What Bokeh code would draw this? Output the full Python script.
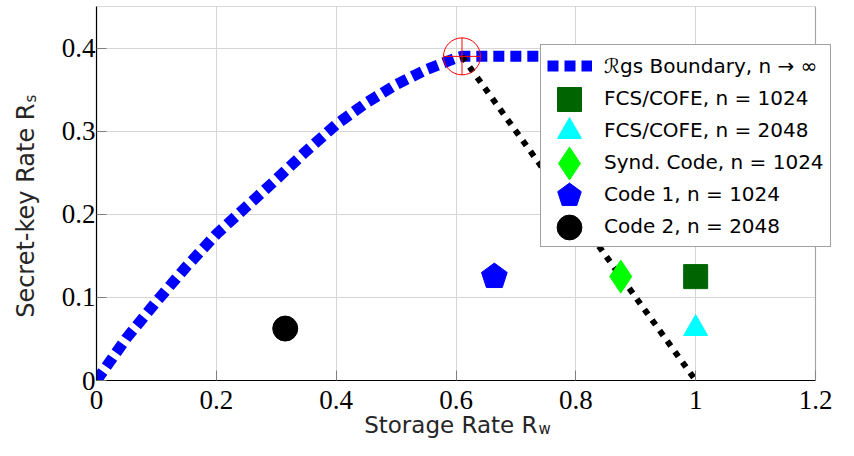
import math
from bokeh.plotting import figure
from bokeh.models import Range1d, FixedTicker, Label, Legend, LegendItem, BoxAnnotation
from bokeh.embed import file_html
from bokeh.resources import INLINE

# ---- data ----
boundary_rw = [0.0, 0.05, 0.10, 0.15, 0.20, 0.25, 0.30, 0.35, 0.40, 0.45, 0.50, 0.55, 0.60, 0.61, 1.0]
boundary_rs = [0.0, 0.051, 0.095, 0.137, 0.176, 0.209, 0.242, 0.276, 0.308, 0.334, 0.356, 0.374, 0.388, 0.39, 0.39]

converse_rw = [0.61, 1.0]
converse_rs = [0.39, 0.0]

corner_rw = [0.61]
corner_rs = [0.39]

fcs1024_rw = [1.0]
fcs1024_rs = [0.125]
fcs2048_rw = [1.0]
fcs2048_rs = [0.0625]
synd_rw = [0.875]
synd_rs = [0.125]
code1_rw = [0.664]
code1_rs = [0.125]
code2_rw = [0.315]
code2_rs = [0.0625]

x_ticks = [0.0, 0.2, 0.4, 0.6, 0.8, 1.0, 1.2]
x_tick_labels = ["0", "0.2", "0.4", "0.6", "0.8", "1", "1.2"]
y_ticks = [0.0, 0.1, 0.2, 0.3, 0.4]
y_tick_labels = ["0", "0.1", "0.2", "0.3", "0.4"]

legend_labels = [
    "ℛgs Boundary, n → ∞",
    "FCS/COFE, n = 1024",
    "FCS/COFE, n = 2048",
    "Synd. Code, n = 1024",
    "Code 1, n = 1024",
    "Code 2, n = 2048",
]

X_MAX = 1.2
Y_MAX = 0.45

# ---- layout (pixels) ----
W, H = 838, 440
F_LEFT, F_RIGHT, F_TOP, F_BOTTOM = 96, 836, 6, 380
PX_X = (815 - F_LEFT) / X_MAX          # pixels per unit along x (axis ends at x=815)
PX_Y = (F_BOTTOM - F_TOP) / Y_MAX       # pixels per unit along y


def dx(px):
    return (px - F_LEFT) / PX_X


def dy(py):
    return (F_BOTTOM - py) / PX_Y


p = figure(width=W, height=H,
           x_range=Range1d(0, dx(F_RIGHT)), y_range=Range1d(0, Y_MAX),
           output_backend="svg", toolbar_location=None,
           min_border_left=F_LEFT, min_border_right=W - F_RIGHT,
           min_border_top=F_TOP, min_border_bottom=H - F_BOTTOM)
p.background_fill_color = "white"
p.border_fill_color = "white"
p.outline_line_color = None

p.xaxis.ticker = FixedTicker(ticks=x_ticks)
p.yaxis.ticker = FixedTicker(ticks=y_ticks)
p.xaxis.major_label_overrides = dict(zip(x_ticks, x_tick_labels))
p.yaxis.major_label_overrides = dict(zip(y_ticks, y_tick_labels))
p.xaxis.bounds = (0, X_MAX)
for ax in (p.xaxis[0], p.yaxis[0]):
    ax.major_label_text_font = "Liberation Serif"
    ax.major_label_text_font_size = "27px"
    ax.major_label_text_color = "black"
    ax.major_tick_in = 10
    ax.major_tick_out = 0
    ax.minor_tick_in = 0
    ax.minor_tick_out = 0
    ax.major_tick_line_color = "#808080"
    ax.axis_line_color = "black"
    ax.axis_line_width = 1.2
p.xaxis.major_label_standoff = 10
p.yaxis.major_label_standoff = 1

p.xgrid.ticker = FixedTicker(ticks=x_ticks)
p.ygrid.ticker = FixedTicker(ticks=y_ticks)
p.xgrid.grid_line_color = "#d6d6d6"
p.ygrid.grid_line_color = "#d6d6d6"

# white area right of the axis end (room for the legend)
p.add_layout(BoxAnnotation(left=X_MAX, fill_color="white", fill_alpha=1.0, line_alpha=0))

# ---- glyphs ----
r_bound = p.line(boundary_rw, boundary_rs, line_color="blue", line_width=11,
                 line_dash="11 6", line_cap="butt")
p.line(converse_rw, converse_rs, line_color="black", line_width=6, line_dash="6 7")
p.scatter(corner_rw, corner_rs, marker="circle_cross", size=37, fill_alpha=0,
          line_color="red", line_width=1)

r_fcs1 = p.scatter(fcs1024_rw, fcs1024_rs, marker="square", size=24,
                   fill_color="#006400", line_color="#006400")
r_fcs2 = p.scatter(fcs2048_rw, fcs2048_rs, marker="triangle", size=24,
                   fill_color="cyan", line_color="cyan")
r_synd = p.scatter(synd_rw, synd_rs, marker="diamond", size=33,
                   fill_color="#00ff00", line_color="#00ff00")
r_code1 = p.ngon(x=code1_rw, y=code1_rs, radius=13.5, radius_units="screen", n=5,
                 fill_color="blue", line_color="blue")
r_code2 = p.scatter(code2_rw, code2_rs, marker="circle", size=25,
                    fill_color="black", line_color="black")

marker_renderers = [r_fcs1, r_fcs2, r_synd, r_code1, r_code2]

# plot box (the frame itself is wider, to leave room for the legend)
p.add_layout(BoxAnnotation(left=0, right=X_MAX, bottom=0, top=Y_MAX, fill_alpha=0,
                           line_color="black", line_width=1.2))

# ---- legend (box + labels) ----
LEG_LEFT, LEG_BOTTOM = 540, 247
PAD, ROW_H, SPACE, GW = 6, 29, 3, 45
legA = Legend(items=[LegendItem(label=legend_labels[0], renderers=[r_bound])] +
              [LegendItem(label=l, renderers=[r]) for l, r in zip(legend_labels[1:], marker_renderers)],
              location=(LEG_LEFT - F_LEFT, F_BOTTOM - LEG_BOTTOM), margin=0, padding=PAD,
              spacing=SPACE, glyph_width=GW, glyph_height=ROW_H, label_height=ROW_H,
              label_standoff=12,
              label_text_font="DejaVu Sans", label_text_font_size="20px",
              label_text_color="black",
              border_line_color="#444444", border_line_width=1.5,
              background_fill_color="white", background_fill_alpha=1.0)
p.add_layout(legA)

# full-size legend markers: one transparent single-item legend per marker row
leg_top = LEG_BOTTOM - (2 * PAD + 6 * ROW_H + 5 * SPACE)
cx = LEG_LEFT + PAD + GW / 2
glyph_boxes = [60, 60, 82, 62, 62]
for k, (r, g) in enumerate(zip(marker_renderers, glyph_boxes)):
    cy = leg_top + PAD + (k + 1) * (ROW_H + SPACE) + ROW_H / 2
    p.add_layout(Legend(items=[LegendItem(label=" ", renderers=[r])],
                        location=(cx - g / 2 - F_LEFT, F_BOTTOM - (cy + g / 2)),
                        margin=0, padding=0, spacing=0, glyph_width=g, glyph_height=g,
                        label_height=1, label_standoff=0, label_text_font_size="1px",
                        border_line_alpha=0, background_fill_alpha=0))

# ---- axis titles with subscripts (in side panels, so they are not clipped) ----
SANS = "DejaVu Sans"
TITLE_COLOR = "#262626"
p.add_layout(Label(x=dx(537), y=dy(424), text="Storage Rate R", text_align="right",
                   text_baseline="alphabetic", text_font=SANS, text_font_size="23px",
                   text_color=TITLE_COLOR), "below")
p.add_layout(Label(x=dx(538), y=dy(428), text="w", text_align="left",
                   text_baseline="alphabetic", text_font=SANS, text_font_size="15px",
                   text_color=TITLE_COLOR), "left")
p.add_layout(Label(x=dx(25), y=dy(103), text="Secret-key Rate R", angle=math.pi / 2,
                   text_align="right", text_baseline="alphabetic", text_font=SANS,
                   text_font_size="24px", text_color=TITLE_COLOR), "left")
p.add_layout(Label(x=dx(30), y=dy(102), text="s", angle=math.pi / 2,
                   text_align="left", text_baseline="alphabetic", text_font=SANS,
                   text_font_size="15px", text_color=TITLE_COLOR), "left")

open("out.html", "w").write(file_html(p, INLINE))
